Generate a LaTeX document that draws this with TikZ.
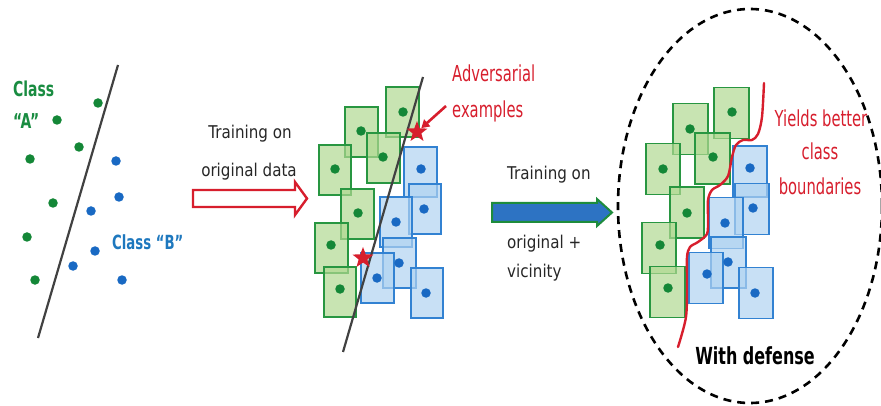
\documentclass[tikz,border=0pt]{standalone}
\usepackage{fontspec}
\setmainfont{DejaVu Sans}
\newfontfamily\fa{DejaVu Sans}[FakeStretch=0.86]
\newfontfamily\fr{DejaVu Sans}[FakeStretch=0.67]
\newfontfamily\fb{DejaVu Sans}[FakeStretch=0.68]
\usetikzlibrary{shapes.geometric,arrows.meta}
\definecolor{gbord}{RGB}{40,150,65}
\definecolor{gfill}{RGB}{176,216,145}
\definecolor{gdotc}{RGB}{20,135,55}
\definecolor{bbord}{RGB}{50,130,210}
\definecolor{bfill}{RGB}{176,211,241}
\definecolor{bdotc}{RGB}{25,105,195}
\definecolor{advred}{RGB}{215,30,45}
\definecolor{linegray}{RGB}{65,65,65}
\definecolor{clsgreen}{RGB}{25,140,65}
\definecolor{clsblue}{RGB}{30,120,190}
\definecolor{arrblue}{RGB}{45,115,195}
\definecolor{arrgreen}{RGB}{30,140,60}
\tikzset{
  lbl/.style={inner sep=0pt, anchor=base},
  lblw/.style={inner sep=0pt, anchor=base west},
  armtext/.style={font=\fa\fontsize{17.6}{20}\selectfont, text=black!85},
  redtext/.style={font=\fr\fontsize{22}{26}\selectfont, text=advred},
  clstext/.style={font=\fb\bfseries\fontsize{20.5}{24}\selectfont},
  gsq/.style={draw=gbord, line width=1.8pt, fill=gfill, fill opacity=0.7, minimum width=32.5pt, minimum height=50pt, inner sep=0pt},
  bsq/.style={draw=bbord, line width=1.8pt, fill=bfill, fill opacity=0.7, minimum width=32.5pt, minimum height=50pt, inner sep=0pt},
  gdot/.style={circle, fill=gdotc, minimum size=9.5pt, inner sep=0pt},
  bdot/.style={circle, fill=bdotc, minimum size=9.5pt, inner sep=0pt},
  advstar/.style={star, star points=5, star point ratio=2.4, fill=advred, minimum size=22pt, inner sep=0pt},
  sepline/.style={draw=linegray, line width=2.2pt},
}
\begin{document}
\begin{tikzpicture}[x=1pt,y=-1pt]
\useasboundingbox (0,0) rectangle (881,406);

% ---------- left panel ----------
\coordinate (l1top) at (118,65);
\coordinate (l1bot) at (38,338);
\draw[sepline] (l1top) -- (l1bot);
\foreach \i/\x/\y in {1/98/103,2/57/120,3/79/147,4/30/159,5/53/203,6/27/237,7/35/280}
  \node[gdot] (lg\i) at (\x,\y) {};
\foreach \i/\x/\y in {1/116/161,2/119/197,3/91/211,4/95/251,5/73/266,6/122/280}
  \node[bdot] (lb\i) at (\x,\y) {};
\node[lblw, clstext, text=clsgreen] (clsA1) at (13,97) {Class};
\node[lblw, clstext, text=clsgreen] (clsA2) at (13,129) {“A”};
\node[lblw, clstext, text=clsblue, font=\fb\bfseries\fontsize{19.5}{24}\selectfont] (clsB) at (112,250) {Class “B”};

% ---------- arrow 1 ----------
\node[lbl, armtext] (t1a) at (250,139) {Training on};
\node[lbl, armtext] (t1b) at (249,177) {original data};
\draw[draw=advred, fill=white, line width=2.4pt, line join=miter]
  (193,190) -- (295,190) -- (295,182) -- (307,198.5) -- (295,215) -- (295,207) -- (193,207) -- cycle;

% ---------- middle panel ----------
\foreach \i/\x/\y in {1/402.5/112,2/361.5/132,3/383.5/158,4/335/170,5/357.5/214,6/331.5/248,7/340/292}
  \node[gsq] (mg\i) at (\x,\y) {};
\foreach \i/\x/\y in {1/420.5/172,2/425/209,3/396/222,4/399.5/263,5/377.5/278,6/427/293}
  \node[bsq] (mb\i) at (\x,\y) {};
\foreach \i/\x/\y in {1/403/112,2/361/131,3/383/157,4/335/169,5/358/213,6/331/245,7/340/289}
  \node[gdot] (mgd\i) at (\x,\y) {};
\foreach \i/\x/\y in {1/421/169,2/424/209,3/396/222,4/399/263,5/377/278,6/426/293}
  \node[bdot] (mbd\i) at (\x,\y) {};
\coordinate (m1top) at (423,77);
\coordinate (m1bot) at (343,352);
\draw[sepline] (m1top) -- (m1bot);
\node[advstar] (star1) at (417,132) {};
\node[advstar] (star2) at (363,258) {};
\node[lblw, redtext] (adv1) at (452,82) {Adversarial};
\node[lblw, redtext] (adv2) at (452,118) {examples};
\coordinate (advtail) at (446,106);
\draw[advred, line width=2.6pt, -{Triangle[length=8pt,width=9pt]}] (advtail) -- (star1);

% ---------- arrow 2 ----------
\node[lblw, armtext] (t2a) at (507,180) {Training on};
\node[lblw, armtext] (t2b) at (507,249) {original +};
\node[lblw, armtext] (t2c) at (507,277) {vicinity};
\draw[draw=arrgreen, fill=arrblue, line width=2pt, line join=miter]
  (492,203) -- (597,203) -- (597,199) -- (612,212.5) -- (597,226) -- (597,222) -- (492,222) -- cycle;

% ---------- right panel ----------
\node[draw=black, dash pattern=on 8pt off 6pt, line width=2.6pt, ellipse,
      minimum width=264pt, minimum height=394pt, inner sep=0pt] (defcircle) at (750,206) {};
\foreach \i/\x/\y in {1/731.5/113,2/690.5/129,3/712.5/158.5,4/663/169,5/687/212.5,6/659/248,7/667.5/292}
  \node[gsq, minimum width=34.5pt, minimum height=51pt] (rg\i) at (\x,\y) {};
\foreach \i/\x/\y in {1/750/171.5,2/752/209,3/726/223,4/728.5/262.5,5/706/278,6/756/293}
  \node[bsq, minimum width=34.5pt, minimum height=51pt] (rb\i) at (\x,\y) {};
\foreach \i/\x/\y in {1/732/112,2/690/129,3/713/157,4/663/169,5/687/213,6/660/245,7/668/288}
  \node[gdot] (rgd\i) at (\x,\y) {};
\foreach \i/\x/\y in {1/750/168,2/753/208,3/725/223,4/728/262,5/707/274,6/755/293}
  \node[bdot] (rbd\i) at (\x,\y) {};
\draw[advred, line width=2.4pt, line cap=round] plot[smooth, tension=0.5] coordinates {
  (764,83) (762,117) (758,134) (752,140) (743,140) (736,145) (732,157) (728,176)
  (720,185) (712,190) (708,200) (708,220) (707,234) (698,242) (690,247) (687,257)
  (687,283) (686,317) (678,347)};
\node[lbl, redtext] (yb1) at (821,127) {Yields better};
\node[lbl, redtext] (yb2) at (820,160) {class};
\node[lbl, redtext] (yb3) at (820,195) {boundaries};
\node[lbl, font=\fb\bfseries\fontsize{23.5}{27}\selectfont, text=black] (wdef) at (755,364) {With defense};
\end{tikzpicture}
\end{document}
